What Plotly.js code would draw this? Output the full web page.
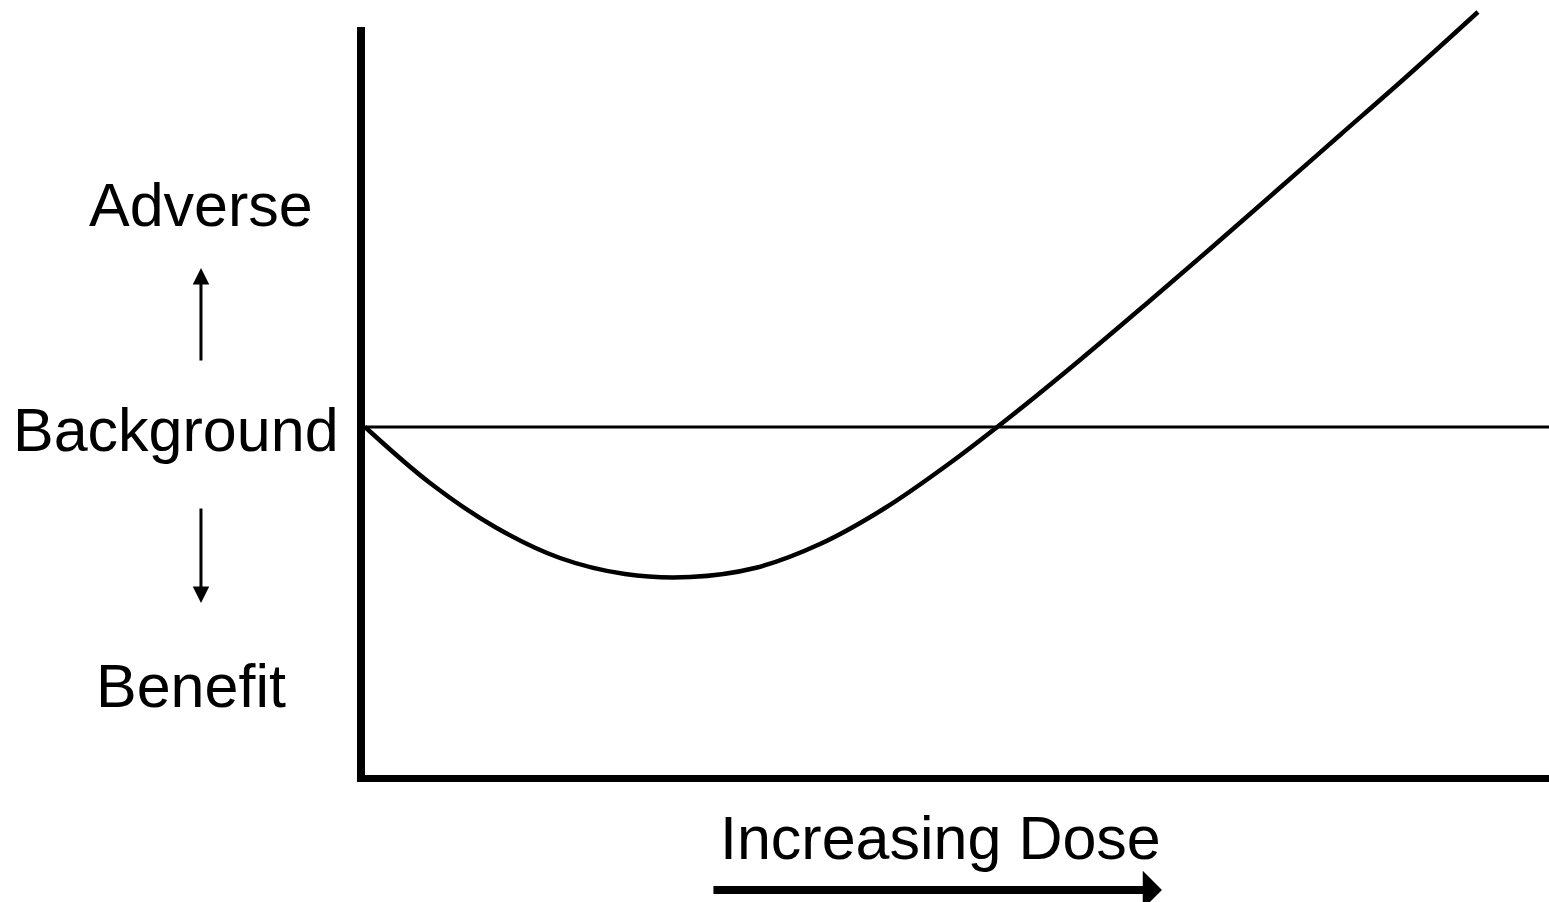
<!DOCTYPE html>
<html>
<head>
<meta charset="utf-8">
<script src="https://cdn.plot.ly/plotly-3.0.1.min.js"></script>
<style>html,body{margin:0;padding:0;background:#fff;}#chart{width:1549px;height:902px;}</style>
</head>
<body>
<div id="chart"></div>
<script>
// Dose-response curve (arbitrary units; background response = 0)
const dose = [0.34, 5.81, 11.28, 16.75, 22.22, 27.69, 33.16, 38.64, 44.11, 49.58, 55.05, 60.52, 65.99, 71.46, 76.94, 82.41, 87.88, 94.02];
const response = [0, -0.56, -1.00, -1.31, -1.47, -1.50, -1.41, -1.17, -0.81, -0.36, 0.14, 0.67, 1.22, 1.78, 2.35, 2.92, 3.49, 4.15];
const backgroundLevel = 0;
const labels = {adverse: "Adverse", background: "Background", benefit: "Benefit", xTitle: "Increasing Dose"};

const FONT = "Liberation Sans, Arial, sans-serif";
const xr = [-30.387, 100];
const yr = [-4.75, 4.27];

const traces = [{
  x: dose, y: response, type: "scatter", mode: "lines",
  line: {color: "#000", width: 4.5, shape: "spline", smoothing: 1},
  hoverinfo: "skip", showlegend: false
}];

const shapes = [
  // background line
  {type: "line", xref: "x", yref: "y", x0: 0.3, x1: 100, y0: backgroundLevel, y1: backgroundLevel, line: {color: "#000", width: 3}},
  // y axis
  {type: "line", xref: "x", yref: "y", x0: 0, x1: 0, y0: -3.55, y1: 4.0, line: {color: "#000", width: 8}},
  // x axis
  {type: "line", xref: "x", yref: "y", x0: -0.34, x1: 100, y0: -3.515, y1: -3.515, line: {color: "#000", width: 7}}
];

const annotations = [
  {x: -13.5, y: 2.22, xref: "x", yref: "y", text: labels.adverse, showarrow: false, font: {family: FONT, size: 61, color: "#000"}},
  {x: -15.57, y: -0.03, xref: "x", yref: "y", text: labels.background, showarrow: false, font: {family: FONT, size: 61, color: "#000"}},
  {x: -14.31, y: -2.59, xref: "x", yref: "y", text: labels.benefit, showarrow: false, font: {family: FONT, size: 61, color: "#000"}},
  {x: 48.82, y: -4.11, xref: "x", yref: "y", text: labels.xTitle, showarrow: false, font: {family: FONT, size: 61, color: "#000"}},
  // up arrow
  {x: -13.47, y: 1.59, xref: "x", yref: "y", axref: "pixel", ayref: "pixel", ax: 0, ay: 94, text: "", showarrow: true,
   arrowhead: 2, arrowwidth: 3, arrowsize: 1.1, arrowcolor: "#000", standoff: 0},
  // down arrow
  {x: -13.47, y: -1.76, xref: "x", yref: "y", axref: "pixel", ayref: "pixel", ax: 0, ay: -96, text: "", showarrow: true,
   arrowhead: 2, arrowwidth: 3, arrowsize: 1.1, arrowcolor: "#000", standoff: 0},
  // dose arrow
  {x: 67.42, y: -4.63, xref: "x", yref: "y", axref: "pixel", ayref: "pixel", ax: -450, ay: 0, text: "", showarrow: true,
   arrowhead: 1, arrowwidth: 8, arrowsize: 0.8, arrowcolor: "#000", standoff: 0}
];

const layout = {
  width: 1549, height: 902,
  margin: {l: 0, r: 0, t: 0, b: 0, pad: 0},
  paper_bgcolor: "#fff", plot_bgcolor: "#fff",
  showlegend: false,
  xaxis: {range: xr, visible: false, fixedrange: true},
  yaxis: {range: yr, visible: false, fixedrange: true},
  shapes: shapes,
  annotations: annotations
};

Plotly.newPlot("chart", traces, layout, {displayModeBar: false, staticPlot: true});
</script>
</body>
</html>
